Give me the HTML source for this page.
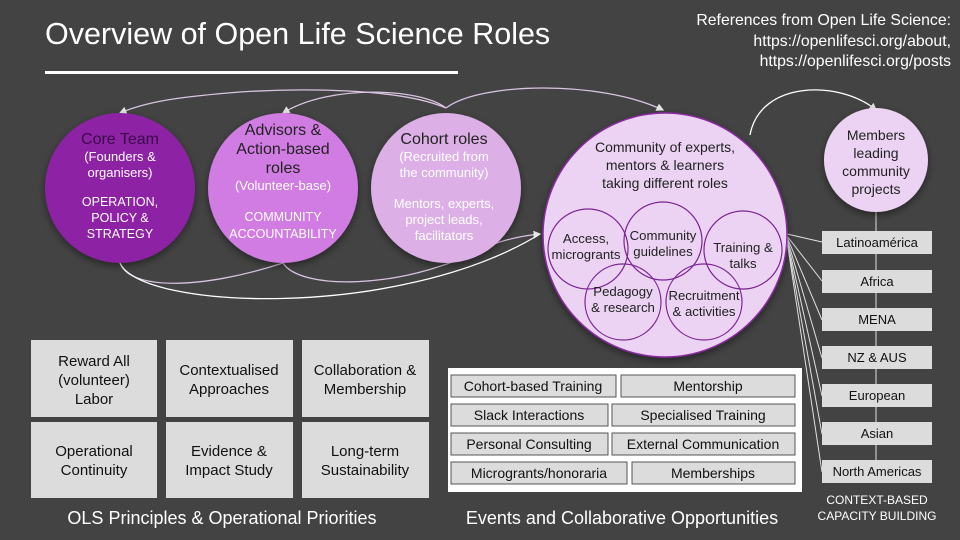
<!DOCTYPE html>
<html><head><meta charset="utf-8"><style>
body{margin:0;background:#434343;}
svg{display:block;font-family:"Liberation Sans",sans-serif;}
</style></head><body>
<svg width="960" height="540" viewBox="0 0 960 540" xmlns="http://www.w3.org/2000/svg">
<defs>
<marker id="a" markerWidth="6" markerHeight="6" refX="5" refY="3" orient="auto"><path d="M0,0 L6,3 L0,6z" fill="#e8e8e8"/></marker>
<filter id="sh" x="-20%" y="-20%" width="140%" height="140%"><feDropShadow dx="0" dy="3" stdDeviation="4" flood-color="#000" flood-opacity="0.45"/></filter>
</defs>
<rect width="960" height="540" fill="#434343"/>
<text x="45" y="44" font-size="30.5" fill="#fff">Overview of Open Life Science Roles</text>
<rect x="45" y="71" width="413" height="3" fill="#fff"/>
<g font-size="15.8" fill="#fff" text-anchor="end">
<text x="951" y="25">References from Open Life Science:</text>
<text x="951" y="46">https://openlifesci.org/about,</text>
<text x="951" y="66">https://openlifesci.org/posts</text>
</g>

<g fill="none" stroke="#d9c4e0" stroke-width="1.3">
<path d="M446,108 C400,88 300,88 240,92 C190,96 150,100 120,113" marker-end="url(#a)"/>
<path d="M446,108 C420,88 330,84 283,113" marker-end="url(#a)"/>
<path d="M446,108 C480,82 600,80 663,110" marker-end="url(#a)"/>
<path d="M120,263 C130,290 200,290 283,263"/>
<path d="M283,263 C300,290 400,290 480,250 C500,240 520,236 540,234" marker-end="url(#a)"/>
<path d="M120,263 C140,310 400,320 540,234" stroke="#fff"/>
<path d="M750,135 C760,80 840,80 876,110" stroke="#fff" marker-end="url(#a)"/>
</g>

<circle cx="120" cy="188" r="75" fill="#8e23a5" filter="url(#sh)"/>
<circle cx="283" cy="188" r="75" fill="#d07ce2" filter="url(#sh)"/>
<circle cx="446" cy="188" r="75" fill="#dcb0e6" filter="url(#sh)"/>
<g text-anchor="middle">
<text x="120" y="144" font-size="16" fill="#3b0a4a">Core Team</text>
<text x="120" y="161" font-size="13" fill="#fff">(Founders &amp;</text>
<text x="120" y="177" font-size="13" fill="#fff">organisers)</text>
<text x="120" y="206" font-size="12.5" fill="#fff">OPERATION,</text>
<text x="120" y="222" font-size="12.5" fill="#fff">POLICY &amp;</text>
<text x="120" y="238" font-size="12.5" fill="#fff">STRATEGY</text>

<text x="283" y="135" font-size="16" fill="#222">Advisors &amp;</text>
<text x="283" y="154" font-size="16" fill="#222">Action-based</text>
<text x="283" y="173" font-size="16" fill="#222">roles</text>
<text x="283" y="190" font-size="13" fill="#fff">(Volunteer-base)</text>
<text x="283" y="221" font-size="12.5" fill="#fff">COMMUNITY</text>
<text x="283" y="238" font-size="12.5" fill="#fff">ACCOUNTABILITY</text>

<text x="444" y="144" font-size="16" fill="#222">Cohort roles</text>
<text x="444" y="161" font-size="13" fill="#fff">(Recruited from</text>
<text x="444" y="177" font-size="13" fill="#fff">the community)</text>
<text x="444" y="208" font-size="13" fill="#fff">Mentors, experts,</text>
<text x="444" y="224" font-size="13" fill="#fff">project leads,</text>
<text x="444" y="240" font-size="13" fill="#fff">facilitators</text>
</g>

<g stroke="#e0e0e0" stroke-width="1" fill="none">
<line x1="876" y1="212" x2="876" y2="470"/>
<line x1="787" y1="234" x2="822" y2="242"/>
<line x1="787" y1="236" x2="822" y2="281"/>
<line x1="787" y1="237" x2="822" y2="320"/>
<line x1="787" y1="238" x2="822" y2="358"/>
<line x1="787" y1="239" x2="822" y2="396"/>
<line x1="787" y1="240" x2="822" y2="434"/>
<line x1="787" y1="241" x2="822" y2="472"/>
</g>

<circle cx="665" cy="235" r="122" fill="#ecd3f3" stroke="#8a2aa0" stroke-width="1.5" filter="url(#sh)"/>
<g text-anchor="middle" font-size="14" fill="#222">
<text x="665" y="152">Community of experts,</text>
<text x="665" y="170">mentors &amp; learners</text>
<text x="665" y="188">taking different roles</text>
</g>
<g fill="none" stroke="#7b2593" stroke-width="1.2">
<circle cx="588" cy="249" r="40"/>
<circle cx="663" cy="241" r="39"/>
<circle cx="743" cy="250" r="39"/>
<circle cx="623" cy="302" r="38"/>
<circle cx="704" cy="302" r="38"/>
</g>
<g text-anchor="middle" font-size="13.2" fill="#222">
<text x="586" y="243">Access,</text><text x="586" y="259">microgrants</text>
<text x="663" y="240">Community</text><text x="663" y="256">guidelines</text>
<text x="743" y="252">Training &amp;</text><text x="743" y="268">talks</text>
<text x="623" y="296">Pedagogy</text><text x="623" y="312">&amp; research</text>
<text x="704" y="300">Recruitment</text><text x="704" y="316">&amp; activities</text>
</g>

<circle cx="876" cy="160" r="52" fill="#ecd3f3" filter="url(#sh)"/>
<g text-anchor="middle" font-size="14" fill="#222">
<text x="876" y="140">Members</text><text x="876" y="158">leading</text><text x="876" y="176">community</text><text x="876" y="194">projects</text>
</g>

<g font-size="13" fill="#111" text-anchor="middle">
<rect x="822" y="231" width="110" height="23" fill="#dcdcdc"/><text x="877" y="247">Latinoamérica</text>
<rect x="822" y="270" width="110" height="23" fill="#dcdcdc"/><text x="877" y="286">Africa</text>
<rect x="822" y="308" width="110" height="23" fill="#dcdcdc"/><text x="877" y="324">MENA</text>
<rect x="822" y="346" width="110" height="23" fill="#dcdcdc"/><text x="877" y="362">NZ &amp; AUS</text>
<rect x="822" y="384" width="110" height="23" fill="#dcdcdc"/><text x="877" y="400">European</text>
<rect x="822" y="422" width="110" height="23" fill="#dcdcdc"/><text x="877" y="438">Asian</text>
<rect x="822" y="460" width="110" height="23" fill="#dcdcdc"/><text x="877" y="476">North Americas</text>
</g>
<g font-size="12" fill="#fff" text-anchor="middle">
<text x="877" y="504">CONTEXT-BASED</text><text x="877" y="520">CAPACITY BUILDING</text>
</g>

<rect x="448" y="368" width="354" height="124" fill="#fff"/>
<g fill="#dcdcdc" stroke="#555" stroke-width="1">
<rect x="451" y="375" width="165" height="22"/><rect x="621" y="375" width="174" height="22"/>
<rect x="451" y="404" width="157" height="22"/><rect x="612" y="404" width="183" height="22"/>
<rect x="451" y="433" width="157" height="22"/><rect x="612" y="433" width="183" height="22"/>
<rect x="451" y="462" width="176" height="22"/><rect x="632" y="462" width="163" height="22"/>
</g>
<g font-size="14" fill="#111" text-anchor="middle">
<text x="533" y="391">Cohort-based Training</text><text x="708" y="391">Mentorship</text>
<text x="529" y="420">Slack Interactions</text><text x="703" y="420">Specialised Training</text>
<text x="529" y="449">Personal Consulting</text><text x="703" y="449">External Communication</text>
<text x="539" y="478">Microgrants/honoraria</text><text x="713" y="478">Memberships</text>
</g>
<text x="622" y="524" font-size="18" fill="#fff" text-anchor="middle">Events and Collaborative Opportunities</text>

<g fill="#dcdcdc">
<rect x="31" y="340" width="126" height="77"/><rect x="166" y="340" width="127" height="77"/><rect x="302" y="340" width="127" height="77"/>
<rect x="31" y="422" width="126" height="76"/><rect x="166" y="422" width="127" height="76"/><rect x="302" y="422" width="127" height="76"/>
</g>
<g font-size="15" fill="#111" text-anchor="middle">
<text x="94" y="366">Reward All</text><text x="94" y="385">(volunteer)</text><text x="94" y="404">Labor</text>
<text x="229" y="375">Contextualised</text><text x="229" y="394">Approaches</text>
<text x="365" y="375">Collaboration &amp;</text><text x="365" y="394">Membership</text>
<text x="94" y="456">Operational</text><text x="94" y="475">Continuity</text>
<text x="229" y="456">Evidence &amp;</text><text x="229" y="475">Impact Study</text>
<text x="365" y="456">Long-term</text><text x="365" y="475">Sustainability</text>
</g>
<text x="222" y="524" font-size="18" fill="#fff" text-anchor="middle">OLS Principles &amp; Operational Priorities</text>
</svg>
</body></html>
